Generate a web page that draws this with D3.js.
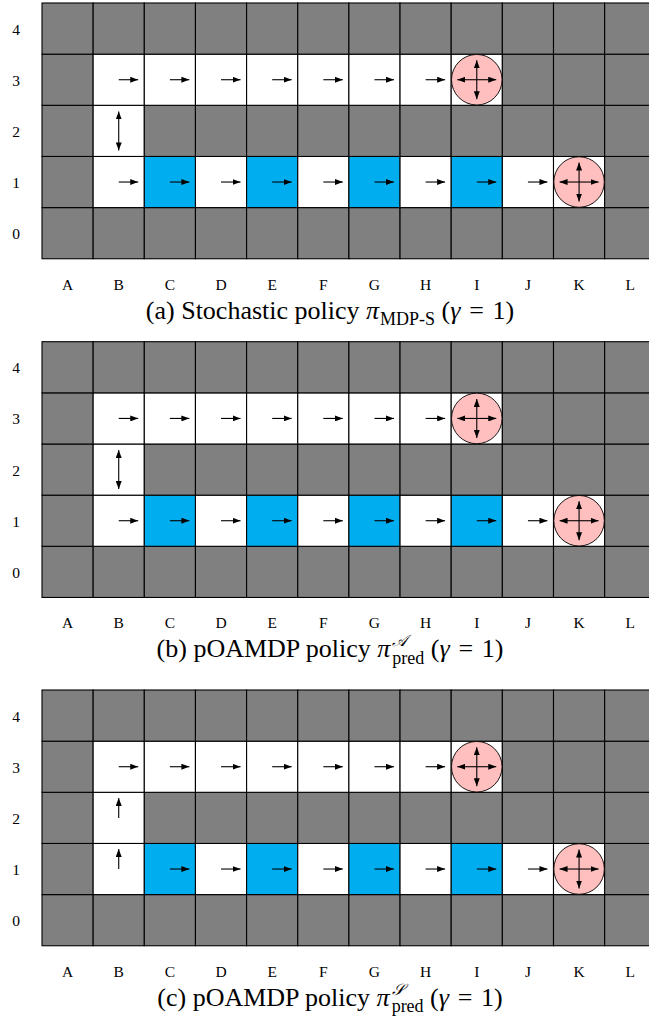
<!DOCTYPE html>
<html>
<head>
<meta charset="utf-8">
<script src="https://cdn.jsdelivr.net/npm/d3@7/dist/d3.min.js"></script>
<style>
  html, body { margin: 0; padding: 0; background: #fff; }
  svg { display: block; }
</style>
</head>
<body>
<svg id="chart" width="649" height="1021"></svg>
<script>
// ---- data ----
const columns = ["A","B","C","D","E","F","G","H","I","J","K","L"];
const rows = [0, 1, 2, 3, 4];
const openCells = ["B3","C3","D3","E3","F3","G3","H3","I3","B2",
                   "B1","C1","D1","E1","F1","G1","H1","I1","J1","K1"];
const blueCells = ["C1","E1","G1","I1"];
const goalCells = ["I3","K1"];
const rightCells = ["B3","C3","D3","E3","F3","G3","H3",
                    "C1","D1","E1","F1","G1","H1","I1","J1"];
const policyA = { B2: "updown", B1: "right" };
const policyB = { B2: "updown", B1: "right" };
const policyC = { B2: "up", B1: "up" };
const panelPolicies = [policyA, policyB, policyC];
const captionLabels = ["(a)", "(b)", "(c)"];
const captionTexts = ["Stochastic policy ", "pOAMDP policy ", "pOAMDP policy "];
const captionSup = [null, "𝒜", "𝒮"];
const captionSub = ["MDP-S", "pred", "pred"];

// ---- layout ----
const panelTops = [3, 341.7, 690];
const x0 = 42, cell = 51.15;
const svg = d3.select("#chart");
const serif = "Liberation Serif, Times New Roman, DejaVu Serif, serif";

const xScale = d3.scaleBand().domain(columns).range([x0, x0 + cell * columns.length]).padding(0);
const yScaleFor = top => d3.scaleBand().domain(rows.slice().reverse()).range([top, top + cell * rows.length]).padding(0);

const defs = svg.append("defs");
defs.append("marker")
  .attr("id", "ah")
  .attr("viewBox", "0 0 8 6")
  .attr("refX", 8).attr("refY", 3)
  .attr("markerWidth", 8).attr("markerHeight", 6)
  .attr("markerUnits", "userSpaceOnUse")
  .attr("orient", "auto-start-reverse")
  .append("path").attr("d", "M0,0 L8,3 L0,6 Z").attr("fill", "#000");

const L = 19.5;

function arrow(g, x1, y1, x2, y2, both) {
  const p = g.append("line")
    .attr("x1", x1).attr("y1", y1).attr("x2", x2).attr("y2", y2)
    .attr("stroke", "#000").attr("stroke-width", 1.1)
    .attr("marker-end", "url(#ah)");
  if (both) p.attr("marker-start", "url(#ah)");
}

panelTops.forEach((top, pi) => {
  const y = yScaleFor(top);
  const g = svg.append("g");
  const cells = [];
  rows.forEach(r => columns.forEach(c => cells.push({ c, r, id: c + r })));

  g.selectAll("rect.cell").data(cells).enter().append("rect")
    .attr("class", "cell")
    .attr("x", d => xScale(d.c)).attr("y", d => y(d.r))
    .attr("width", xScale.bandwidth()).attr("height", y.bandwidth())
    .attr("fill", d => blueCells.includes(d.id) ? "#00aeef" : (openCells.includes(d.id) ? "#ffffff" : "#808080"))
    .attr("stroke", "#000").attr("stroke-width", 1.1);

  const cx = id => xScale(id[0]) + xScale.bandwidth() / 2;
  const cy = id => y(+id.slice(1)) + y.bandwidth() / 2;

  // goal circles
  g.selectAll("circle.goal").data(goalCells).enter().append("circle")
    .attr("cx", cx).attr("cy", cy).attr("r", cell / 2 - 0.3)
    .attr("fill", "#ffbfbf").attr("stroke", "#000").attr("stroke-width", 0.9);
  goalCells.forEach(id => {
    const X = cx(id), Y = cy(id);
    arrow(g, X, Y, X + L, Y);
    arrow(g, X, Y, X - L, Y);
    arrow(g, X, Y, X, Y - L);
    arrow(g, X, Y, X, Y + L);
  });

  // right arrows
  const pol = panelPolicies[pi];
  rightCells.forEach(id => arrow(g, cx(id), cy(id), cx(id) + L, cy(id)));
  Object.keys(pol).forEach(id => {
    const X = cx(id), Y = cy(id), a = pol[id];
    if (a === "right") arrow(g, X, Y, X + L, Y);
    else if (a === "up") arrow(g, X, Y, X, Y - 20);
    else if (a === "updown") arrow(g, X, Y + L, X, Y - L, true);
  });

  // row labels
  g.selectAll("text.rl").data(rows).enter().append("text")
    .attr("x", 16).attr("y", d => y(d) + y.bandwidth() / 2 + 6)
    .attr("text-anchor", "middle").attr("font-family", serif).attr("font-size", 15.5)
    .text(d => d);
  // column labels
  const bottom = top + cell * rows.length;
  g.selectAll("text.cl").data(columns).enter().append("text")
    .attr("x", d => xScale(d) + xScale.bandwidth() / 2).attr("y", bottom + 31)
    .attr("text-anchor", "middle").attr("font-family", serif).attr("font-size", 15.5)
    .text(d => d);

  // caption
  const t = g.append("text").attr("x", 330).attr("y", bottom + 60)
    .attr("text-anchor", "middle").attr("font-family", serif).attr("font-size", 26);
  t.append("tspan").text(captionLabels[pi] + " " + captionTexts[pi]);
  t.append("tspan").attr("font-style", "italic").text("π");
  if (captionSup[pi]) {
    const sup = t.append("tspan").attr("font-size", 16).attr("font-style", "italic").attr("dx", 2).attr("dy", -11).text(captionSup[pi]);
    const w = sup.node().getComputedTextLength();
    t.append("tspan").attr("font-size", 18).attr("dx", -w).attr("dy", 17.5).text(captionSub[pi]);
    t.append("tspan").attr("dy", -6.5).text(" (");
  } else {
    t.append("tspan").attr("font-size", 18).attr("dy", 6).attr("dx", 1).text(captionSub[pi]);
    t.append("tspan").attr("dy", -6).text(" (");
  }
  t.append("tspan").attr("font-style", "italic").text("γ");
  t.append("tspan").text("\u2004=\u2004" + "1)");
});
</script>
</body>
</html>
